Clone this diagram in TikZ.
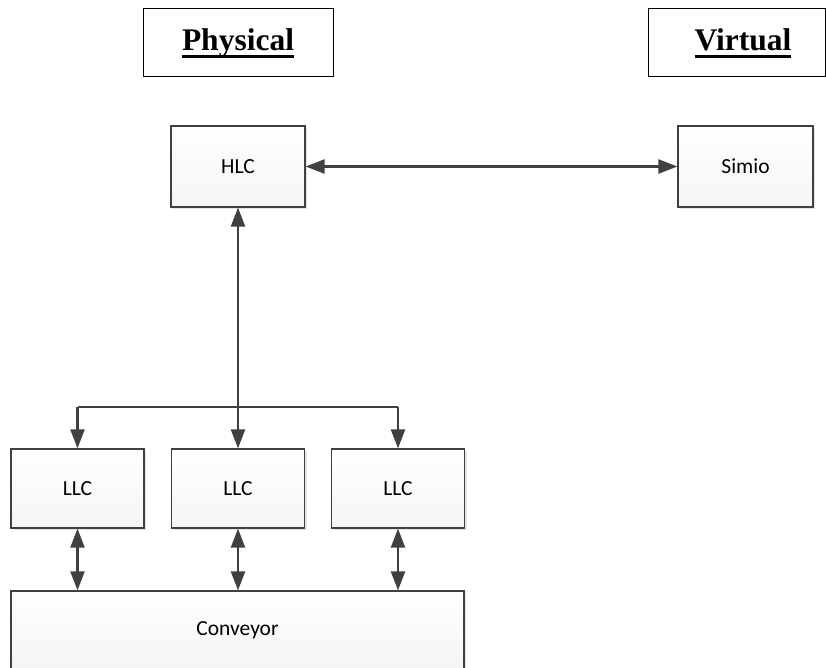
\documentclass[tikz,border=0pt]{standalone}
\usepackage{fontspec}
\setmainfont{Liberation Serif}
\newfontfamily\boxfont{Carlito}
\usetikzlibrary{arrows.meta,shadows}
% heavy underline for the headings
\newsavebox{\fatulbox}
\newcommand{\fatul}[1]{\leavevmode\sbox{\fatulbox}{#1}\usebox{\fatulbox}\llap{\rule[-7.8pt]{\wd\fatulbox}{2.7pt}}}
\definecolor{edgegray}{HTML}{404040}
\tikzset{
  unitbox/.style={draw=edgegray, line width=1.2pt, top color=white, bottom color=gray!8,
    drop shadow={shadow xshift=2pt, shadow yshift=-2pt, fill=gray!35, opacity=0.6},
    font=\boxfont\fontsize{21.5}{26}\selectfont, inner sep=0pt},
  headbox/.style={draw=black, line width=1pt, fill=white, inner sep=0pt},
  headtext/.style={font=\bfseries\fontsize{31.5}{36}\selectfont, inner sep=0pt},
  link/.style={draw=edgegray, line width=2.2pt,
    arrows={Triangle[length=19pt,width=14pt]-Triangle[length=19pt,width=14pt]}},
  onelink/.style={draw=edgegray, line width=2.2pt, -{Triangle[length=19pt,width=14pt]}},
}
\begin{document}
\begin{tikzpicture}[x=1pt,y=-1pt]
  \useasboundingbox (0,0) rectangle (826,668);

  % column headings
  \node[headbox, minimum width=190pt, minimum height=68pt] (physbox) at (238,43) {};
  \node[headtext] (phys) at (238,43) {\fatul{Physical}};
  \node[headbox, minimum width=177pt, minimum height=68pt] (virtbox) at (736.5,43) {};
  \node[headtext] (virt) at (743,43) {\fatul{Virtual}};

  % controllers
  \node[unitbox, minimum width=134pt, minimum height=81pt] (hlc) at (238,166.5) {HLC};
  \node[unitbox, minimum width=135pt, minimum height=81pt] (simio) at (745.5,166.5) {Simio};
  \node[unitbox, minimum width=133pt, minimum height=79pt] (llc1) at (77.5,488.5) {LLC};
  \node[unitbox, minimum width=133pt, minimum height=79pt] (llc2) at (238,488.5) {LLC};
  \node[unitbox, minimum width=133pt, minimum height=79pt] (llc3) at (398,488.5) {LLC};
  \node[unitbox, minimum width=453pt, minimum height=78pt] (conv) at (237.5,630) {Conveyor};

  % connections
  \draw[link] (hlc.east) -- (simio.west);
  \draw[link] (hlc.south) -- (llc2.north);
  \coordinate (busleft) at (77.5,407);
  \coordinate (busright) at (398,407);
  \draw[draw=edgegray, line width=2.2pt] (busleft) -- (busright);
  \draw[onelink] (busleft) -- (llc1.north);
  \draw[onelink] (busright) -- (llc3.north);
  \draw[link] (llc1.south) -- (llc1.south |- conv.north);
  \draw[link] (llc2.south) -- (llc2.south |- conv.north);
  \draw[link] (llc3.south) -- (llc3.south |- conv.north);
\end{tikzpicture}
\end{document}
